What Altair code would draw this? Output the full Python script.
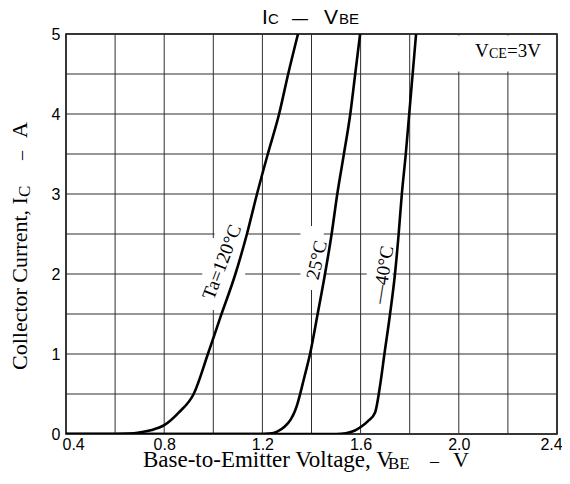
import altair as alt
import pandas as pd

# ---- data ----
v_120 = [0.40, 0.60, 0.66, 0.70, 0.75, 0.80, 0.86, 0.92, 0.978, 1.03, 1.09, 1.137, 1.178, 1.222, 1.268, 1.305, 1.345]
i_120 = [0.0, 0.0, 0.005, 0.02, 0.05, 0.11, 0.27, 0.50, 1.0, 1.47, 2.0, 2.5, 3.0, 3.5, 4.0, 4.5, 5.0]

v_25 = [0.40, 1.20, 1.23, 1.26, 1.29, 1.315, 1.333, 1.343, 1.37, 1.394, 1.425, 1.455, 1.482, 1.505, 1.532, 1.558, 1.578, 1.598]
i_25 = [0.0, 0.0, 0.005, 0.03, 0.09, 0.18, 0.29, 0.38, 0.70, 1.0, 1.5, 2.0, 2.5, 3.0, 3.5, 4.0, 4.5, 5.0]

v_m40 = [0.40, 1.50, 1.54, 1.575, 1.602, 1.63, 1.659, 1.68, 1.697, 1.72, 1.74, 1.755, 1.768, 1.784, 1.798, 1.812, 1.826]
i_m40 = [0.0, 0.0, 0.01, 0.04, 0.09, 0.16, 0.27, 0.62, 1.0, 1.5, 2.0, 2.5, 3.0, 3.5, 4.0, 4.5, 5.0]

x_ticks = [0.4, 0.6, 0.8, 1.0, 1.2, 1.4, 1.6, 1.8, 2.0, 2.2, 2.4]
y_ticks = [0, 0.5, 1, 1.5, 2, 2.5, 3, 3.5, 4, 4.5, 5]

curve_labels = ["Ta=120°C", "25°C", "—40°C"]
label_v = [1.035, 1.422, 1.691]
label_i = [2.15, 2.175, 1.99]
label_angle = [291, 283, 279]

SERIF = "Liberation Serif"
SANS = "Liberation Sans"
GRID = "#2e2e2e"

rows = []
for name, vs, cs in [("120", v_120, i_120), ("25", v_25, i_25), ("-40", v_m40, i_m40)]:
    for k, (v, c) in enumerate(zip(vs, cs)):
        rows.append({"series": name, "v": v, "i": c, "order": k})
df = pd.DataFrame(rows)

xs = alt.Scale(domain=[0.4, 2.4], nice=False, zero=False)
ys = alt.Scale(domain=[0, 5], nice=False, zero=False)

x_axis = alt.Axis(
    values=x_ticks, title=None, ticks=False, domain=False, grid=False,
    labelExpr="round(datum.value*10) % 4 == 0 ? format(datum.value, '.1f') : ''",
    labelFont=SANS, labelFontSize=16, labelColor="black", labelPadding=2,
    labelFlush=False,
    labelAlign={"condition": {"test": "datum.value < 0.5", "value": "left"}, "value": "center"},
    labelOffset={"condition": [{"test": "datum.value < 0.5", "value": -4},
                               {"test": "datum.value > 2.3", "value": -6}], "value": 0},
)
y_axis = alt.Axis(
    values=y_ticks, title=None, ticks=False, domain=False, grid=False,
    labelExpr="datum.value % 1 == 0 ? datum.value : ''",
    labelFont=SANS, labelFontSize=16, labelColor="black", labelPadding=6,
)

vgrid = alt.Chart(pd.DataFrame({"v": x_ticks})).mark_rule(color=GRID, strokeWidth=1).encode(
    x=alt.X("v:Q", scale=xs, axis=x_axis)
)
hgrid = alt.Chart(pd.DataFrame({"i": y_ticks})).mark_rule(color=GRID, strokeWidth=1).encode(
    y=alt.Y("i:Q", scale=ys, axis=y_axis)
)

# white patches where the printed grid is interrupted behind the labels
gap_df = pd.DataFrame({
    "x": [0.955, 1.005, 1.355, 1.625, 1.95],
    "x2": [1.13, 1.135, 1.45, 1.73, 2.39],
    "y": [1.55, 2.45, 1.8, 1.7, 4.53],
    "y2": [2.45, 2.55, 2.6, 2.3, 4.98],
})
gaps = alt.Chart(gap_df).mark_rect(color="white").encode(
    x=alt.X("x:Q", scale=xs, axis=x_axis), x2="x2:Q",
    y=alt.Y("y:Q", scale=ys, axis=y_axis), y2="y2:Q",
)

lines = alt.Chart(df).mark_line(color="black", strokeWidth=2.6, interpolate="monotone", clip=True).encode(
    x=alt.X("v:Q", scale=xs, axis=x_axis),
    y=alt.Y("i:Q", scale=ys, axis=y_axis),
    detail="series:N",
    order="order:Q",
)

layers = [vgrid, hgrid, gaps, lines]
for t, v, c, a in zip(curve_labels, label_v, label_i, label_angle):
    layers.append(
        alt.Chart(pd.DataFrame({"t": [t], "v": [v], "i": [c]})).mark_text(
            font=SERIF, fontSize=19, angle=a, align="center", baseline="middle", color="black"
        ).encode(
            x=alt.X("v:Q", scale=xs, axis=x_axis),
            y=alt.Y("i:Q", scale=ys, axis=y_axis),
            text="t:N",
        )
    )


def txt(s, px, py, size, font=SERIF, angle=0, align="left", baseline="alphabetic"):
    return alt.Chart(pd.DataFrame({"t": [s]})).mark_text(
        font=font, fontSize=size, angle=angle, align=align, baseline=baseline, color="black"
    ).encode(x=alt.value(px), y=alt.value(py), text="t:N")


# title  I_C — V_BE
layers += [
    txt("I", 196, -10, 21, SANS),
    txt("C", 202, -10, 15, SANS),
    txt("—", 226, -10, 16, SANS),
    txt("V", 258, -10, 21, SANS),
    txt("BE", 273, -10, 15, SANS),
]
# V_CE=3V note
layers += [
    txt("V", 409, 23, 19),
    txt("CE", 423, 24, 14),
    txt("=3V", 441, 23, 19),
]
# x axis title
layers += [
    txt("Base-to-Emitter Voltage, V", 77, 433, 23),
    txt("BE", 322, 435, 17),
    txt("–", 364, 433, 18),
    txt("V", 387, 433, 22),
]
# y axis title (rotated)
layers += [
    txt("Collector Current, I", -39, 336, 22, angle=270),
    txt("C", -36, 163, 17, angle=270),
    txt("–", -39, 126, 18, angle=270),
    txt("A", -39, 104, 22, angle=270),
]

chart = alt.layer(*layers).properties(
    width=491, height=400,
    padding={"left": 58, "top": 26, "right": 5, "bottom": 38},
    autosize=alt.AutoSizeParams(type="none"),
    background="white",
).configure_view(stroke="black", strokeWidth=1.5)

chart.save("out.html", embed_options={"renderer": "svg", "actions": False})
